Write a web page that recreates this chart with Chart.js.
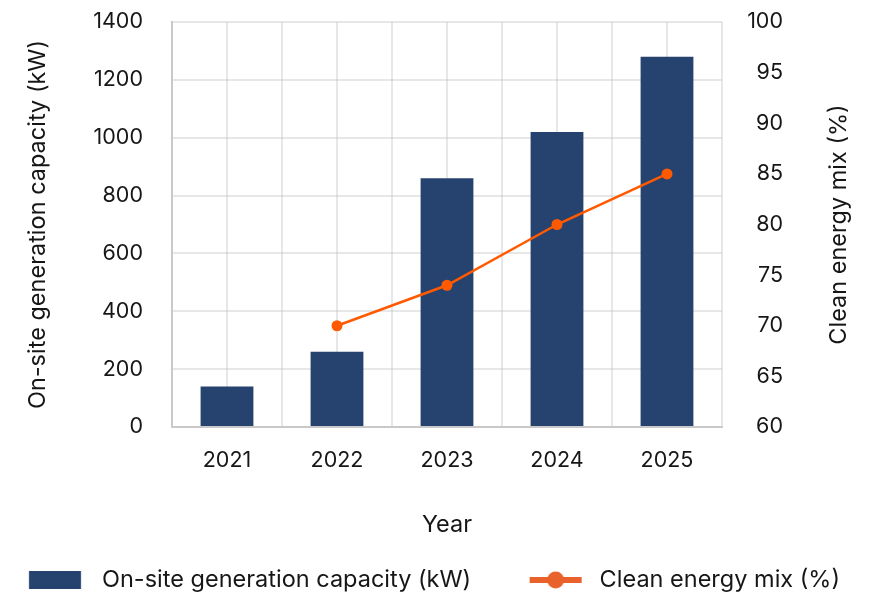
<!DOCTYPE html>
<html><head><meta charset="utf-8">
<script src="https://cdn.jsdelivr.net/npm/chart.js@4.4.1/dist/chart.umd.min.js"></script>
<style>html,body{margin:0;padding:0;background:#fff}#wrap{width:885px;height:594px;position:relative}</style>
</head><body><div id="wrap"><canvas id="c"></canvas></div>
<script>
// ---- data ----
const years = ['2021', '2022', '2023', '2024', '2025'];
const capacityKW = [140, 260, 860, 1020, 1280];
const cleanMixPct = [null, 70, 74, 80, 85];
const capacityLabel = 'On-site generation capacity (kW)';
const mixLabel = 'Clean energy mix (%)';
const xTitle = 'Year';
const leftRange = [0, 1400, 200];
const rightRange = [60, 100, 5];

// ---- style ----
const FONT = 'Inter, "Noto Sans", sans-serif';
const TEXT = '#161616';
const BAR = '#26426f';
const LINE = '#ff5a00';
const LEG_LINE = '#e9612b';
const GRID = 'rgba(180,180,180,0.32)';
const BORDER = '#c9c9c9';
const LEG_SIZE = 23.5, TICK_SIZE = 21.5, TITLE_SIZE = 23.5;
const HALF = LEG_SIZE / 2;
const P = 10;                 // legend padding
const W = 102 - P - HALF;     // legend symbol box width -> text1 starts at 102

// measure label 1 and pad to reference spacing
const mctx = document.createElement('canvas').getContext('2d');
mctx.font = LEG_SIZE + 'px ' + FONT;
let legText1 = capacityLabel;
while (mctx.measureText(legText1 + '\u00A0').width <= 400) legText1 += '\u00A0';
const t1 = mctx.measureText(legText1).width;

function symbol(cx, draw) {
  const h = 70, c = document.createElement('canvas');
  c.width = 2 * h; c.height = 22;
  const g = c.getContext('2d');
  draw(g, cx - h);
  return c;
}
const sym1 = symbol(P + W / 2, (g, o) => { g.fillStyle = BAR; g.fillRect(29 - o, 2, 52, 18); });
const x2 = P + W + HALF + t1 + P;
const text2x = x2 + W + HALF;
const sym2 = symbol(x2 + W / 2, (g, o) => {
  const e = text2x - 18 - o, s = e - 52;
  g.strokeStyle = LEG_LINE; g.lineWidth = 6;
  g.beginPath(); g.moveTo(s, 11); g.lineTo(e, 11); g.stroke();
  g.fillStyle = LEG_LINE; g.beginPath(); g.arc((s + e) / 2, 11, 8.5, 0, Math.PI * 2); g.fill();
});

const tickFont = {family: FONT, size: TICK_SIZE};
const titleFont = {family: FONT, size: TITLE_SIZE};
const noPad = (s) => { s.paddingTop = 0; s.paddingBottom = 0; };

// right-hand axis title, reading bottom-to-top
const rightTitle = {
  id: 'rightTitle',
  afterDraw(chart) {
    const s = chart.scales.y1, a = chart.chartArea, ctx = chart.ctx;
    ctx.save();
    ctx.translate(s.right + 56, (a.top + a.bottom) / 2);
    ctx.rotate(-Math.PI / 2);
    ctx.font = TITLE_SIZE + 'px ' + FONT;
    ctx.fillStyle = TEXT; ctx.textAlign = 'center'; ctx.textBaseline = 'middle';
    ctx.fillText(mixLabel, 0, 0);
    ctx.restore();
  }
};

new Chart(document.getElementById('c'), {
  data: {
    labels: years,
    datasets: [
      {type: 'line', label: mixLabel, data: cleanMixPct, yAxisID: 'y1',
       borderColor: LINE, backgroundColor: LINE, borderWidth: 2.5,
       pointRadius: 5.5, pointHoverRadius: 5.5, pointBackgroundColor: LINE, pointBorderWidth: 0,
       spanGaps: false, order: 0},
      {type: 'bar', label: capacityLabel, data: capacityKW, yAxisID: 'y',
       backgroundColor: BAR, barPercentage: 0.6, categoryPercentage: 0.8, order: 1}
    ]
  },
  plugins: [rightTitle],
  options: {
    responsive: true, maintainAspectRatio: false, animation: false,
    layout: {padding: {top: 22, left: 0, right: 0, bottom: 0}},
    plugins: {
      tooltip: {enabled: false},
      legend: {
        position: 'bottom', align: 'start', maxHeight: 594 - (580 - P - HALF),
        labels: {
          usePointStyle: true, pointStyleWidth: W, padding: P,
          font: {family: FONT, size: LEG_SIZE}, color: TEXT,
          generateLabels: (chart) => [
            {text: legText1, pointStyle: sym1, datasetIndex: 1},
            {text: chart.data.datasets[0].label, pointStyle: sym2, datasetIndex: 0}
          ].map(it => Object.assign(it, {fillStyle: 'rgba(0,0,0,0)', strokeStyle: 'rgba(0,0,0,0)', lineWidth: 0, hidden: false, fontColor: TEXT}))
        }
      }
    },
    scales: {
      x: {
        type: 'category', position: 'bottom', offset: true, z: 1,
        grid: {color: GRID, lineWidth: 2, drawTicks: false, offset: true},
        border: {color: BORDER, width: 2},
        ticks: {font: tickFont, color: TEXT, padding: 21},
        title: {display: true, text: xTitle, font: titleFont, color: TEXT, padding: {top: 0, bottom: 19}},
        afterFit: (s) => { s.height = (580 - P - HALF) - 427; s.paddingLeft = 0; s.paddingRight = 0; }
      },
      x2: {
        type: 'category', labels: years, position: 'top', offset: true, z: 1,
        grid: {color: GRID, lineWidth: 2, drawTicks: false, offset: false},
        border: {display: false},
        ticks: {display: false},
        afterFit: (s) => { s.height = 0; s.paddingLeft = 0; s.paddingRight = 0; }
      },
      y: {
        type: 'linear', position: 'left', min: leftRange[0], max: leftRange[1], z: 1,
        grid: {color: GRID, lineWidth: 2, drawTicks: false},
        border: {color: BORDER, width: 2},
        ticks: {stepSize: leftRange[2], font: tickFont, color: TEXT, padding: 29, callback: (v) => String(v)},
        title: {display: true, text: capacityLabel, font: titleFont, color: TEXT, padding: {top: 24, bottom: 0}},
        afterFit: (s) => { s.width = 172; noPad(s); }
      },
      y1: {
        type: 'linear', position: 'right', weight: 0, min: rightRange[0], max: rightRange[1],
        grid: {drawOnChartArea: false, drawTicks: false},
        border: {display: false},
        ticks: {stepSize: rightRange[2], font: tickFont, color: TEXT, padding: 24, crossAlign: 'far', callback: (v) => String(v)},
        title: {display: false},
        afterFit: (s) => { s.width = 61; noPad(s); }
      },
      ySpace: {
        type: 'linear', position: 'right', weight: 1, min: 0, max: 1,
        grid: {display: false, drawOnChartArea: false, drawTicks: false},
        border: {display: false},
        ticks: {display: false},
        afterFit: (s) => { s.width = 102; noPad(s); }
      }
    }
  }
});
</script></body></html>
